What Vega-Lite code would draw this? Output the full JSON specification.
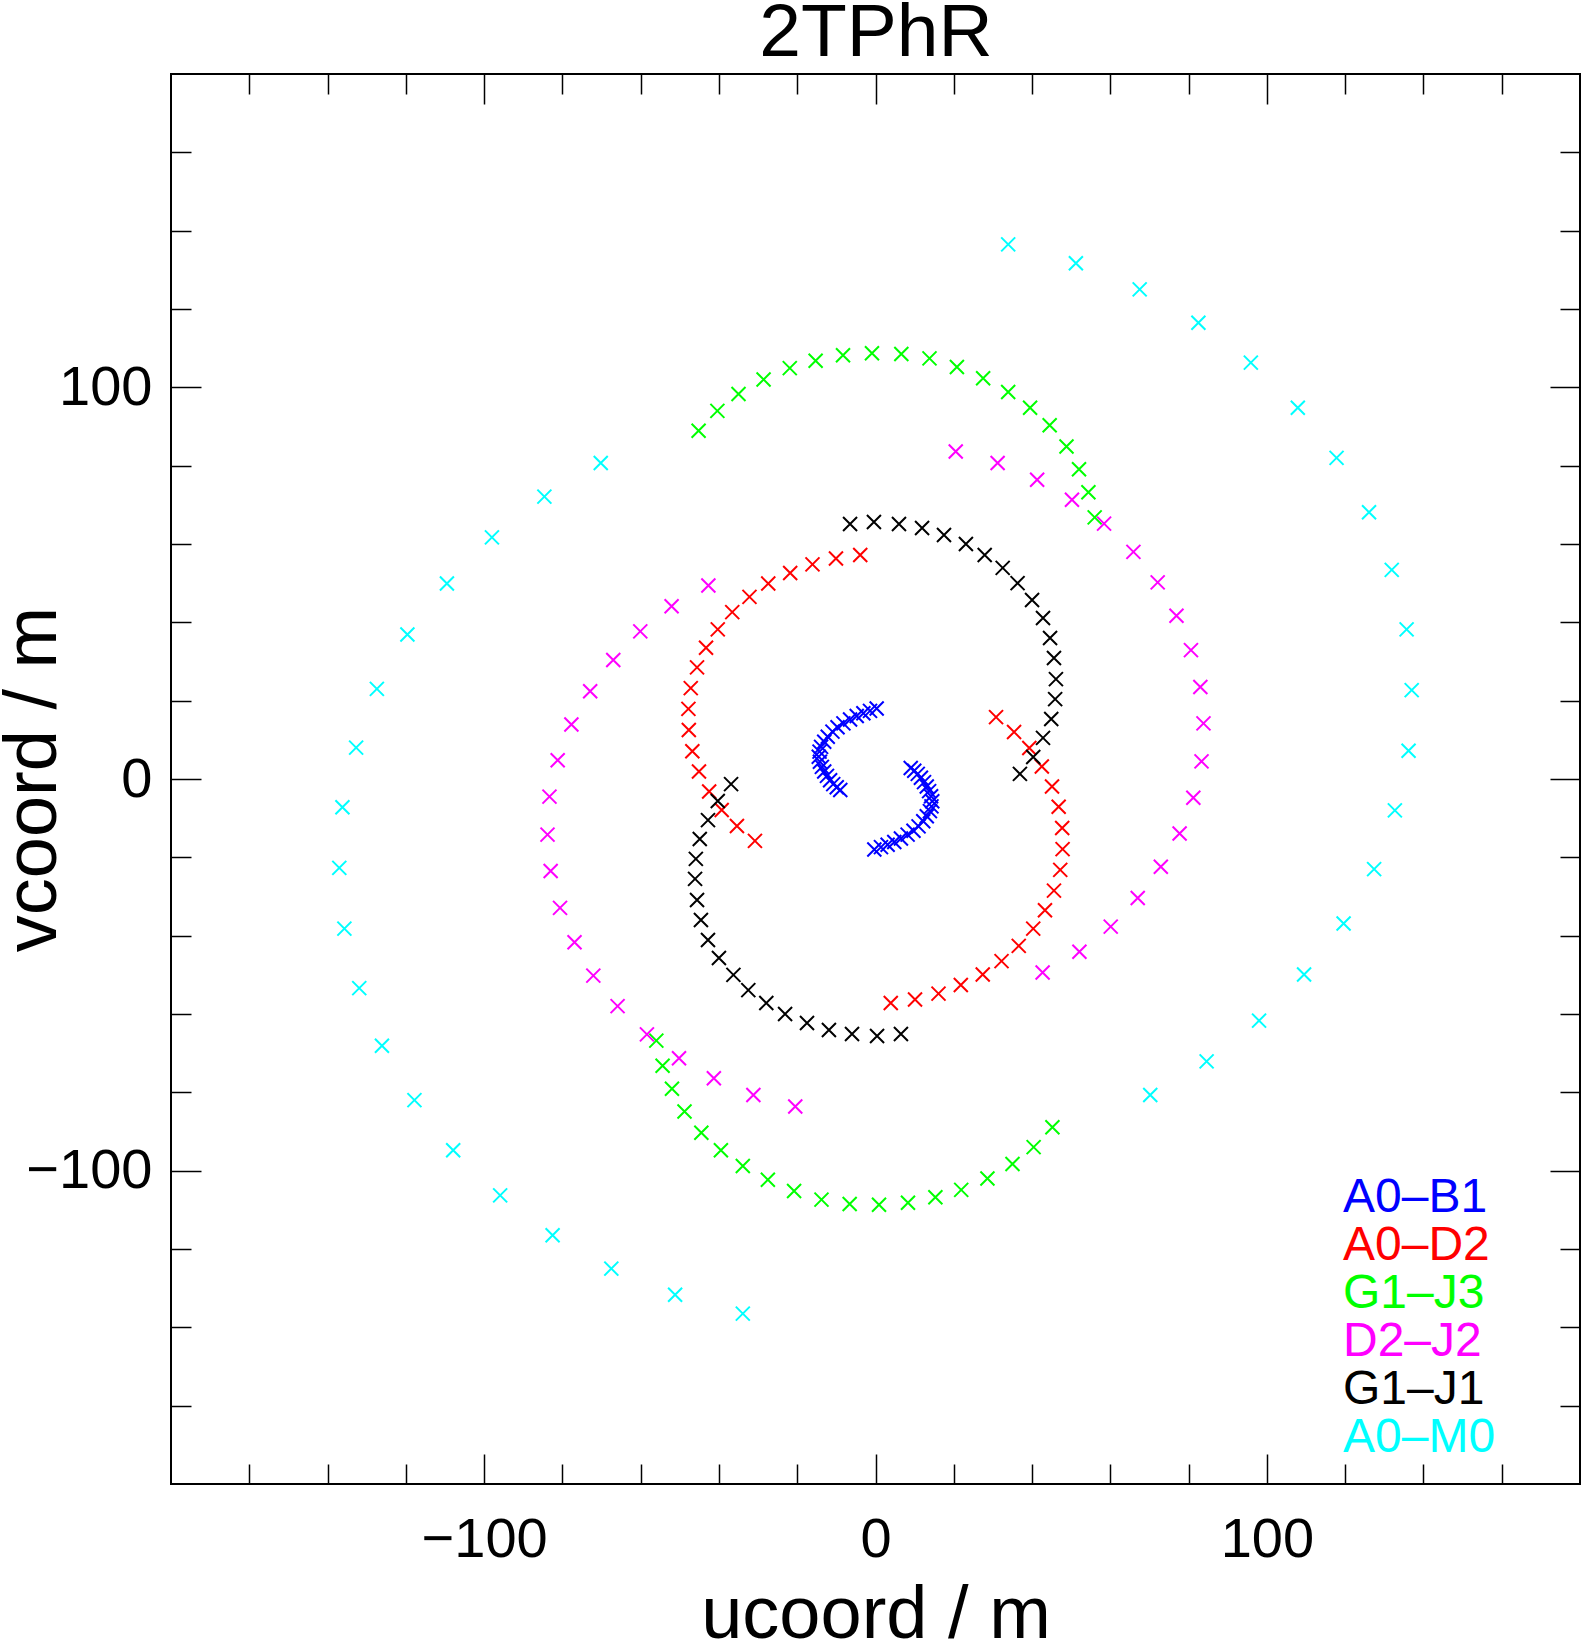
{
  "$schema": "https://vega.github.io/schema/vega-lite/v6.json",
  "width": 1409,
  "height": 1410,
  "autosize": {"type": "none"},
  "padding": {"left": 171, "top": 74, "right": 3, "bottom": 155},
  "background": "white",
  "config": {"view": {"stroke": "black", "strokeWidth": 2}, "font": "Liberation Sans"},
  "data": {"values": [
    {"baseline": "A0–B1", "u": 0.3, "v": 18.0}, {"baseline": "A0–B1", "u": -1.4, "v": 17.4}, {"baseline": "A0–B1", "u": -3.1, "v": 16.8}, {"baseline": "A0–B1", "u": -4.8, "v": 16.1}, {"baseline": "A0–B1", "u": -6.5, "v": 15.2}, {"baseline": "A0–B1", "u": -8.2, "v": 14.2}, {"baseline": "A0–B1", "u": -9.7, "v": 13.2}, {"baseline": "A0–B1", "u": -11.0, "v": 12.1}, {"baseline": "A0–B1", "u": -12.2, "v": 10.8}, {"baseline": "A0–B1", "u": -13.1, "v": 9.5}, {"baseline": "A0–B1", "u": -13.9, "v": 8.2}, {"baseline": "A0–B1", "u": -14.3, "v": 7.0}, {"baseline": "A0–B1", "u": -14.5, "v": 5.7}, {"baseline": "A0–B1", "u": -14.2, "v": 4.4}, {"baseline": "A0–B1", "u": -13.7, "v": 3.1}, {"baseline": "A0–B1", "u": -13.1, "v": 1.9}, {"baseline": "A0–B1", "u": -12.4, "v": 0.8}, {"baseline": "A0–B1", "u": -11.6, "v": -0.3}, {"baseline": "A0–B1", "u": -10.8, "v": -1.3}, {"baseline": "A0–B1", "u": -9.9, "v": -2.1}, {"baseline": "A0–B1", "u": -9.0, "v": -2.8},
    {"baseline": "A0–B1", "u": -0.3, "v": -18.0}, {"baseline": "A0–B1", "u": 1.4, "v": -17.4}, {"baseline": "A0–B1", "u": 3.1, "v": -16.8}, {"baseline": "A0–B1", "u": 4.8, "v": -16.1}, {"baseline": "A0–B1", "u": 6.5, "v": -15.2}, {"baseline": "A0–B1", "u": 8.2, "v": -14.2}, {"baseline": "A0–B1", "u": 9.7, "v": -13.2}, {"baseline": "A0–B1", "u": 11.0, "v": -12.1}, {"baseline": "A0–B1", "u": 12.2, "v": -10.8}, {"baseline": "A0–B1", "u": 13.1, "v": -9.5}, {"baseline": "A0–B1", "u": 13.9, "v": -8.2}, {"baseline": "A0–B1", "u": 14.3, "v": -7.0}, {"baseline": "A0–B1", "u": 14.5, "v": -5.7}, {"baseline": "A0–B1", "u": 14.2, "v": -4.4}, {"baseline": "A0–B1", "u": 13.7, "v": -3.1}, {"baseline": "A0–B1", "u": 13.1, "v": -1.9}, {"baseline": "A0–B1", "u": 12.4, "v": -0.8}, {"baseline": "A0–B1", "u": 11.6, "v": 0.3}, {"baseline": "A0–B1", "u": 10.8, "v": 1.3}, {"baseline": "A0–B1", "u": 9.9, "v": 2.1}, {"baseline": "A0–B1", "u": 9.0, "v": 2.8},
    {"baseline": "A0–D2", "u": -3.9, "v": 57.2}, {"baseline": "A0–D2", "u": -10.1, "v": 56.3}, {"baseline": "A0–D2", "u": -16.1, "v": 54.8}, {"baseline": "A0–D2", "u": -21.8, "v": 52.6}, {"baseline": "A0–D2", "u": -27.4, "v": 49.9}, {"baseline": "A0–D2", "u": -32.2, "v": 46.5}, {"baseline": "A0–D2", "u": -36.6, "v": 42.6}, {"baseline": "A0–D2", "u": -40.3, "v": 38.2}, {"baseline": "A0–D2", "u": -43.3, "v": 33.5}, {"baseline": "A0–D2", "u": -45.6, "v": 28.5}, {"baseline": "A0–D2", "u": -47.2, "v": 23.2}, {"baseline": "A0–D2", "u": -47.8, "v": 17.9}, {"baseline": "A0–D2", "u": -47.7, "v": 12.5}, {"baseline": "A0–D2", "u": -46.8, "v": 7.1}, {"baseline": "A0–D2", "u": -45.1, "v": 1.9}, {"baseline": "A0–D2", "u": -42.5, "v": -3.2}, {"baseline": "A0–D2", "u": -39.3, "v": -7.9}, {"baseline": "A0–D2", "u": -35.4, "v": -12.0}, {"baseline": "A0–D2", "u": -30.8, "v": -15.8},
    {"baseline": "A0–D2", "u": 3.9, "v": -57.2}, {"baseline": "A0–D2", "u": 10.1, "v": -56.3}, {"baseline": "A0–D2", "u": 16.1, "v": -54.8}, {"baseline": "A0–D2", "u": 21.8, "v": -52.6}, {"baseline": "A0–D2", "u": 27.4, "v": -49.9}, {"baseline": "A0–D2", "u": 32.2, "v": -46.5}, {"baseline": "A0–D2", "u": 36.6, "v": -42.6}, {"baseline": "A0–D2", "u": 40.3, "v": -38.2}, {"baseline": "A0–D2", "u": 43.3, "v": -33.5}, {"baseline": "A0–D2", "u": 45.6, "v": -28.5}, {"baseline": "A0–D2", "u": 47.2, "v": -23.2}, {"baseline": "A0–D2", "u": 47.8, "v": -17.9}, {"baseline": "A0–D2", "u": 47.7, "v": -12.5}, {"baseline": "A0–D2", "u": 46.8, "v": -7.1}, {"baseline": "A0–D2", "u": 45.1, "v": -1.9}, {"baseline": "A0–D2", "u": 42.5, "v": 3.2}, {"baseline": "A0–D2", "u": 39.3, "v": 7.9}, {"baseline": "A0–D2", "u": 35.4, "v": 12.0}, {"baseline": "A0–D2", "u": 30.8, "v": 15.8},
    {"baseline": "G1–J3", "u": -45.2, "v": 88.9}, {"baseline": "G1–J3", "u": -40.4, "v": 94.0}, {"baseline": "G1–J3", "u": -35.0, "v": 98.3}, {"baseline": "G1–J3", "u": -28.6, "v": 102.0}, {"baseline": "G1–J3", "u": -21.9, "v": 104.9}, {"baseline": "G1–J3", "u": -15.3, "v": 106.8}, {"baseline": "G1–J3", "u": -8.3, "v": 108.2}, {"baseline": "G1–J3", "u": -0.9, "v": 108.7}, {"baseline": "G1–J3", "u": 6.6, "v": 108.5}, {"baseline": "G1–J3", "u": 13.8, "v": 107.4}, {"baseline": "G1–J3", "u": 20.8, "v": 105.2}, {"baseline": "G1–J3", "u": 27.5, "v": 102.3}, {"baseline": "G1–J3", "u": 33.9, "v": 98.8}, {"baseline": "G1–J3", "u": 39.5, "v": 94.8}, {"baseline": "G1–J3", "u": 44.5, "v": 90.3}, {"baseline": "G1–J3", "u": 48.8, "v": 84.9}, {"baseline": "G1–J3", "u": 52.0, "v": 79.1}, {"baseline": "G1–J3", "u": 54.4, "v": 73.2}, {"baseline": "G1–J3", "u": 56.0, "v": 66.8},
    {"baseline": "G1–J3", "u": 45.2, "v": -88.9}, {"baseline": "G1–J3", "u": 40.4, "v": -94.0}, {"baseline": "G1–J3", "u": 35.0, "v": -98.3}, {"baseline": "G1–J3", "u": 28.6, "v": -102.0}, {"baseline": "G1–J3", "u": 21.9, "v": -104.9}, {"baseline": "G1–J3", "u": 15.3, "v": -106.8}, {"baseline": "G1–J3", "u": 8.3, "v": -108.2}, {"baseline": "G1–J3", "u": 0.9, "v": -108.7}, {"baseline": "G1–J3", "u": -6.6, "v": -108.5}, {"baseline": "G1–J3", "u": -13.8, "v": -107.4}, {"baseline": "G1–J3", "u": -20.8, "v": -105.2}, {"baseline": "G1–J3", "u": -27.5, "v": -102.3}, {"baseline": "G1–J3", "u": -33.9, "v": -98.8}, {"baseline": "G1–J3", "u": -39.5, "v": -94.8}, {"baseline": "G1–J3", "u": -44.5, "v": -90.3}, {"baseline": "G1–J3", "u": -48.8, "v": -84.9}, {"baseline": "G1–J3", "u": -52.0, "v": -79.1}, {"baseline": "G1–J3", "u": -54.4, "v": -73.2}, {"baseline": "G1–J3", "u": -56.0, "v": -66.8},
    {"baseline": "D2–J2", "u": 20.5, "v": 83.6}, {"baseline": "D2–J2", "u": 31.2, "v": 80.7}, {"baseline": "D2–J2", "u": 41.3, "v": 76.4}, {"baseline": "D2–J2", "u": 50.2, "v": 71.3}, {"baseline": "D2–J2", "u": 58.4, "v": 65.2}, {"baseline": "D2–J2", "u": 65.9, "v": 58.0}, {"baseline": "D2–J2", "u": 72.1, "v": 50.2}, {"baseline": "D2–J2", "u": 76.9, "v": 41.7}, {"baseline": "D2–J2", "u": 80.6, "v": 32.9}, {"baseline": "D2–J2", "u": 83.0, "v": 23.5}, {"baseline": "D2–J2", "u": 83.8, "v": 14.2}, {"baseline": "D2–J2", "u": 83.3, "v": 4.5}, {"baseline": "D2–J2", "u": 81.2, "v": -4.8}, {"baseline": "D2–J2", "u": 77.7, "v": -13.9}, {"baseline": "D2–J2", "u": 72.9, "v": -22.4}, {"baseline": "D2–J2", "u": 67.0, "v": -30.4}, {"baseline": "D2–J2", "u": 60.1, "v": -37.7}, {"baseline": "D2–J2", "u": 52.1, "v": -44.1}, {"baseline": "D2–J2", "u": 42.7, "v": -49.4},
    {"baseline": "D2–J2", "u": -20.5, "v": -83.6}, {"baseline": "D2–J2", "u": -31.2, "v": -80.7}, {"baseline": "D2–J2", "u": -41.3, "v": -76.4}, {"baseline": "D2–J2", "u": -50.2, "v": -71.3}, {"baseline": "D2–J2", "u": -58.4, "v": -65.2}, {"baseline": "D2–J2", "u": -65.9, "v": -58.0}, {"baseline": "D2–J2", "u": -72.1, "v": -50.2}, {"baseline": "D2–J2", "u": -76.9, "v": -41.7}, {"baseline": "D2–J2", "u": -80.6, "v": -32.9}, {"baseline": "D2–J2", "u": -83.0, "v": -23.5}, {"baseline": "D2–J2", "u": -83.8, "v": -14.2}, {"baseline": "D2–J2", "u": -83.3, "v": -4.5}, {"baseline": "D2–J2", "u": -81.2, "v": 4.8}, {"baseline": "D2–J2", "u": -77.7, "v": 13.9}, {"baseline": "D2–J2", "u": -72.9, "v": 22.4}, {"baseline": "D2–J2", "u": -67.0, "v": 30.4}, {"baseline": "D2–J2", "u": -60.1, "v": 37.7}, {"baseline": "D2–J2", "u": -52.1, "v": 44.1}, {"baseline": "D2–J2", "u": -42.7, "v": 49.4},
    {"baseline": "G1–J1", "u": -6.5, "v": 65.1}, {"baseline": "G1–J1", "u": -0.4, "v": 65.6}, {"baseline": "G1–J1", "u": 6.0, "v": 65.1}, {"baseline": "G1–J1", "u": 11.9, "v": 64.1}, {"baseline": "G1–J1", "u": 17.5, "v": 62.3}, {"baseline": "G1–J1", "u": 23.1, "v": 60.0}, {"baseline": "G1–J1", "u": 27.9, "v": 57.2}, {"baseline": "G1–J1", "u": 32.5, "v": 53.9}, {"baseline": "G1–J1", "u": 36.3, "v": 50.0}, {"baseline": "G1–J1", "u": 40.0, "v": 45.7}, {"baseline": "G1–J1", "u": 42.8, "v": 41.1}, {"baseline": "G1–J1", "u": 44.6, "v": 36.0}, {"baseline": "G1–J1", "u": 45.6, "v": 30.9}, {"baseline": "G1–J1", "u": 46.1, "v": 25.5}, {"baseline": "G1–J1", "u": 45.9, "v": 20.4}, {"baseline": "G1–J1", "u": 44.9, "v": 15.3}, {"baseline": "G1–J1", "u": 42.8, "v": 10.5}, {"baseline": "G1–J1", "u": 40.3, "v": 5.6}, {"baseline": "G1–J1", "u": 36.9, "v": 1.3},
    {"baseline": "G1–J1", "u": 6.5, "v": -65.1}, {"baseline": "G1–J1", "u": 0.4, "v": -65.6}, {"baseline": "G1–J1", "u": -6.0, "v": -65.1}, {"baseline": "G1–J1", "u": -11.9, "v": -64.1}, {"baseline": "G1–J1", "u": -17.5, "v": -62.3}, {"baseline": "G1–J1", "u": -23.1, "v": -60.0}, {"baseline": "G1–J1", "u": -27.9, "v": -57.2}, {"baseline": "G1–J1", "u": -32.5, "v": -53.9}, {"baseline": "G1–J1", "u": -36.3, "v": -50.0}, {"baseline": "G1–J1", "u": -40.0, "v": -45.7}, {"baseline": "G1–J1", "u": -42.8, "v": -41.1}, {"baseline": "G1–J1", "u": -44.6, "v": -36.0}, {"baseline": "G1–J1", "u": -45.6, "v": -30.9}, {"baseline": "G1–J1", "u": -46.1, "v": -25.5}, {"baseline": "G1–J1", "u": -45.9, "v": -20.4}, {"baseline": "G1–J1", "u": -44.9, "v": -15.3}, {"baseline": "G1–J1", "u": -42.8, "v": -10.5}, {"baseline": "G1–J1", "u": -40.3, "v": -5.6}, {"baseline": "G1–J1", "u": -36.9, "v": -1.3},
    {"baseline": "A0–M0", "u": 33.9, "v": 136.5}, {"baseline": "A0–M0", "u": 51.2, "v": 131.7}, {"baseline": "A0–M0", "u": 67.5, "v": 125.0}, {"baseline": "A0–M0", "u": 82.5, "v": 116.5}, {"baseline": "A0–M0", "u": 95.9, "v": 106.3}, {"baseline": "A0–M0", "u": 107.9, "v": 94.8}, {"baseline": "A0–M0", "u": 117.8, "v": 82.0}, {"baseline": "A0–M0", "u": 126.1, "v": 68.1}, {"baseline": "A0–M0", "u": 131.9, "v": 53.4}, {"baseline": "A0–M0", "u": 135.7, "v": 38.2}, {"baseline": "A0–M0", "u": 137.0, "v": 22.7}, {"baseline": "A0–M0", "u": 136.2, "v": 7.2}, {"baseline": "A0–M0", "u": 132.7, "v": -8.0}, {"baseline": "A0–M0", "u": 127.4, "v": -23.0}, {"baseline": "A0–M0", "u": 119.6, "v": -36.9}, {"baseline": "A0–M0", "u": 109.5, "v": -49.9}, {"baseline": "A0–M0", "u": 98.0, "v": -61.7}, {"baseline": "A0–M0", "u": 84.6, "v": -72.1}, {"baseline": "A0–M0", "u": 70.2, "v": -80.7},
    {"baseline": "A0–M0", "u": -33.9, "v": -136.5}, {"baseline": "A0–M0", "u": -51.2, "v": -131.7}, {"baseline": "A0–M0", "u": -67.5, "v": -125.0}, {"baseline": "A0–M0", "u": -82.5, "v": -116.5}, {"baseline": "A0–M0", "u": -95.9, "v": -106.3}, {"baseline": "A0–M0", "u": -107.9, "v": -94.8}, {"baseline": "A0–M0", "u": -117.8, "v": -82.0}, {"baseline": "A0–M0", "u": -126.1, "v": -68.1}, {"baseline": "A0–M0", "u": -131.9, "v": -53.4}, {"baseline": "A0–M0", "u": -135.7, "v": -38.2}, {"baseline": "A0–M0", "u": -137.0, "v": -22.7}, {"baseline": "A0–M0", "u": -136.2, "v": -7.2}, {"baseline": "A0–M0", "u": -132.7, "v": 8.0}, {"baseline": "A0–M0", "u": -127.4, "v": 23.0}, {"baseline": "A0–M0", "u": -119.6, "v": 36.9}, {"baseline": "A0–M0", "u": -109.5, "v": 49.9}, {"baseline": "A0–M0", "u": -98.0, "v": 61.7}, {"baseline": "A0–M0", "u": -84.6, "v": 72.1}, {"baseline": "A0–M0", "u": -70.2, "v": 80.7}
  ]},
  "layer": [
    {
      "mark": {"type": "point", "shape": "M-1,-1L1,1M-1,1L1,-1", "filled": false, "strokeWidth": 2, "size": 196, "opacity": 1},
      "encoding": {
        "x": {"field": "u", "type": "quantitative", "scale": {"domain": [-180, 180], "nice": false, "zero": false},
          "axis": {"orient": "bottom", "values": [-160, -140, -120, -100, -80, -60, -40, -20, 0, 20, 40, 60, 80, 100, 120, 140, 160],
            "labelExpr": "datum.value % 100 === 0 ? datum.label : ''",
            "tickSize": {"condition": {"test": "datum.value % 100 === 0", "value": -30}, "value": -20},
            "tickWidth": 1.5, "tickColor": "black", "domain": false, "grid": false,
            "labelFontSize": 56, "labelFont": "Liberation Sans", "labelColor": "black", "labelBaseline": "alphabetic", "labelPadding": 102,
            "labelFlush": false, "labelOverlap": false,
            "title": "ucoord / m", "titleFontSize": 74, "titleFont": "Liberation Sans", "titleFontWeight": "normal", "titleColor": "black",
            "titleBaseline": "alphabetic", "titleX": 704.5, "titleY": 153, "titleAlign": "center"}},
        "y": {"field": "v", "type": "quantitative", "scale": {"domain": [-180, 180], "nice": false, "zero": false},
          "axis": {"orient": "left", "values": [-160, -140, -120, -100, -80, -60, -40, -20, 0, 20, 40, 60, 80, 100, 120, 140, 160],
            "labelExpr": "datum.value % 100 === 0 ? datum.label : ''",
            "tickSize": {"condition": {"test": "datum.value % 100 === 0", "value": -30}, "value": -20},
            "tickWidth": 1.5, "tickColor": "black", "domain": false, "grid": false,
            "labelFontSize": 56, "labelFont": "Liberation Sans", "labelColor": "black", "labelPadding": 49,
            "labelFlush": false, "labelOverlap": false,
            "title": "vcoord / m", "titleFontSize": 74, "titleFont": "Liberation Sans", "titleFontWeight": "normal", "titleColor": "black",
            "titleBaseline": "alphabetic", "titleAngle": 270, "titleX": -116, "titleY": 705, "titleAlign": "center"}},
        "color": {"field": "baseline", "type": "nominal",
          "scale": {"domain": ["A0–B1", "A0–D2", "G1–J3", "D2–J2", "G1–J1", "A0–M0"], "range": ["#0000ff", "#ff0000", "#00ff00", "#ff00ff", "#000000", "#00ffff"]},
          "legend": {"orient": "none", "legendX": 1124, "legendY": 1114, "title": null, "labelFontSize": 48, "labelFont": "Liberation Sans",
            "symbolSize": 0, "symbolOpacity": 0, "symbolStrokeWidth": 0, "labelOffset": 0, "rowPadding": 0, "padding": 0, "labelLimit": 0,
            "labelBaseline": "alphabetic",
            "labelColor": {"expr": "scale('color', datum.value)"}}}
      }
    },
    {
      "mark": {"type": "point", "opacity": 0, "size": 0},
      "encoding": {
        "x": {"field": "u", "type": "quantitative",
          "axis": {"orient": "top", "values": [-160, -140, -120, -100, -80, -60, -40, -20, 0, 20, 40, 60, 80, 100, 120, 140, 160],
            "labels": false, "domain": false, "grid": false,
            "tickSize": {"condition": {"test": "datum.value % 100 === 0", "value": -30}, "value": -20},
            "tickWidth": 1.5, "tickColor": "black",
            "title": "2TPhR", "titleFontSize": 75, "titleFont": "Liberation Sans", "titleFontWeight": "normal", "titleColor": "black",
            "titleBaseline": "alphabetic", "titleX": 704.5, "titleY": -19, "titleAlign": "center"}},
        "y": {"field": "v", "type": "quantitative",
          "axis": {"orient": "right", "values": [-160, -140, -120, -100, -80, -60, -40, -20, 0, 20, 40, 60, 80, 100, 120, 140, 160],
            "labels": false, "title": null, "domain": false, "grid": false,
            "tickSize": {"condition": {"test": "datum.value % 100 === 0", "value": -30}, "value": -20},
            "tickWidth": 1.5, "tickColor": "black"}}
      }
    }
  ]
}
